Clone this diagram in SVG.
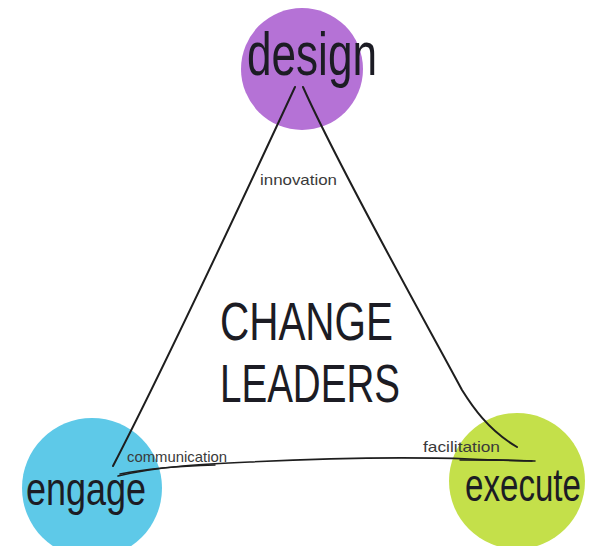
<svg xmlns="http://www.w3.org/2000/svg" width="597" height="546" viewBox="0 0 597 546">
  <style>
    .hand { font-family: "Liberation Sans Narrow", "Liberation Sans", "DejaVu Sans Condensed", sans-serif; fill: #1c1c24; }
    .big { font-size: 54px; }
    .node-label { font-size: 46px; }
    .edge-label { font-size: 15px; fill: #3a3a3a; }
    .edge { fill: none; stroke: #1e1e1e; stroke-linecap: round; }
  </style>

  <rect width="597" height="546" fill="#ffffff"/>

  <!-- Coloured discs for the three roles -->
  <g id="node-design">
    <circle cx="302" cy="69" r="61" fill="#b572d6"/>
    <text class="hand" font-size="52" x="247" y="75" textLength="130" lengthAdjust="spacingAndGlyphs" transform="translate(0,-14) scale(1,1.19)">design</text>
  </g>

  <g id="node-engage">
    <circle cx="92" cy="488" r="70" fill="#5ec9e8"/>
    <text class="hand node-label" x="26" y="505" textLength="120" lengthAdjust="spacingAndGlyphs">engage</text>
  </g>

  <g id="node-execute">
    <circle cx="517" cy="481" r="68" fill="#c4e04a"/>
    <text class="hand node-label" x="465" y="501" textLength="116" lengthAdjust="spacingAndGlyphs">execute</text>
  </g>

  <!-- Triangle sides with their labels -->
  <g id="connectors">
    <path class="edge" stroke-width="2" d="M295,87 C262,158 170,356 113,466"/>
    <path class="edge" stroke-width="2" d="M303,87 C340,170 430,330 462,390 C472,406 488,430 517,447"/>
    <path class="edge" stroke-width="1.6" d="M118,476 C160,466 205,464 250,462 C330,458 410,457 470,459 C500,460 520,461 535,461"/>
    <path class="edge" stroke-width="1.4" d="M120,474 C150,468 180,466 215,465"/>
    <path class="edge" stroke-width="1.4" d="M460,460 C490,460 515,460 532,461"/>

    <text class="hand edge-label" x="260" y="185" textLength="77" lengthAdjust="spacingAndGlyphs">innovation</text>
    <text class="hand edge-label" x="127" y="462" font-size="13" textLength="100" lengthAdjust="spacingAndGlyphs">communication</text>
    <text class="hand edge-label" x="423" y="452" textLength="77" lengthAdjust="spacingAndGlyphs">facilitation</text>
  </g>

  <!-- Central title -->
  <g id="node-title">
    <text class="hand big" x="220" y="340" textLength="173" lengthAdjust="spacingAndGlyphs">CHANGE</text>
    <text class="hand big" x="220" y="402" textLength="180" lengthAdjust="spacingAndGlyphs">LEADERS</text>
  </g>
</svg>
